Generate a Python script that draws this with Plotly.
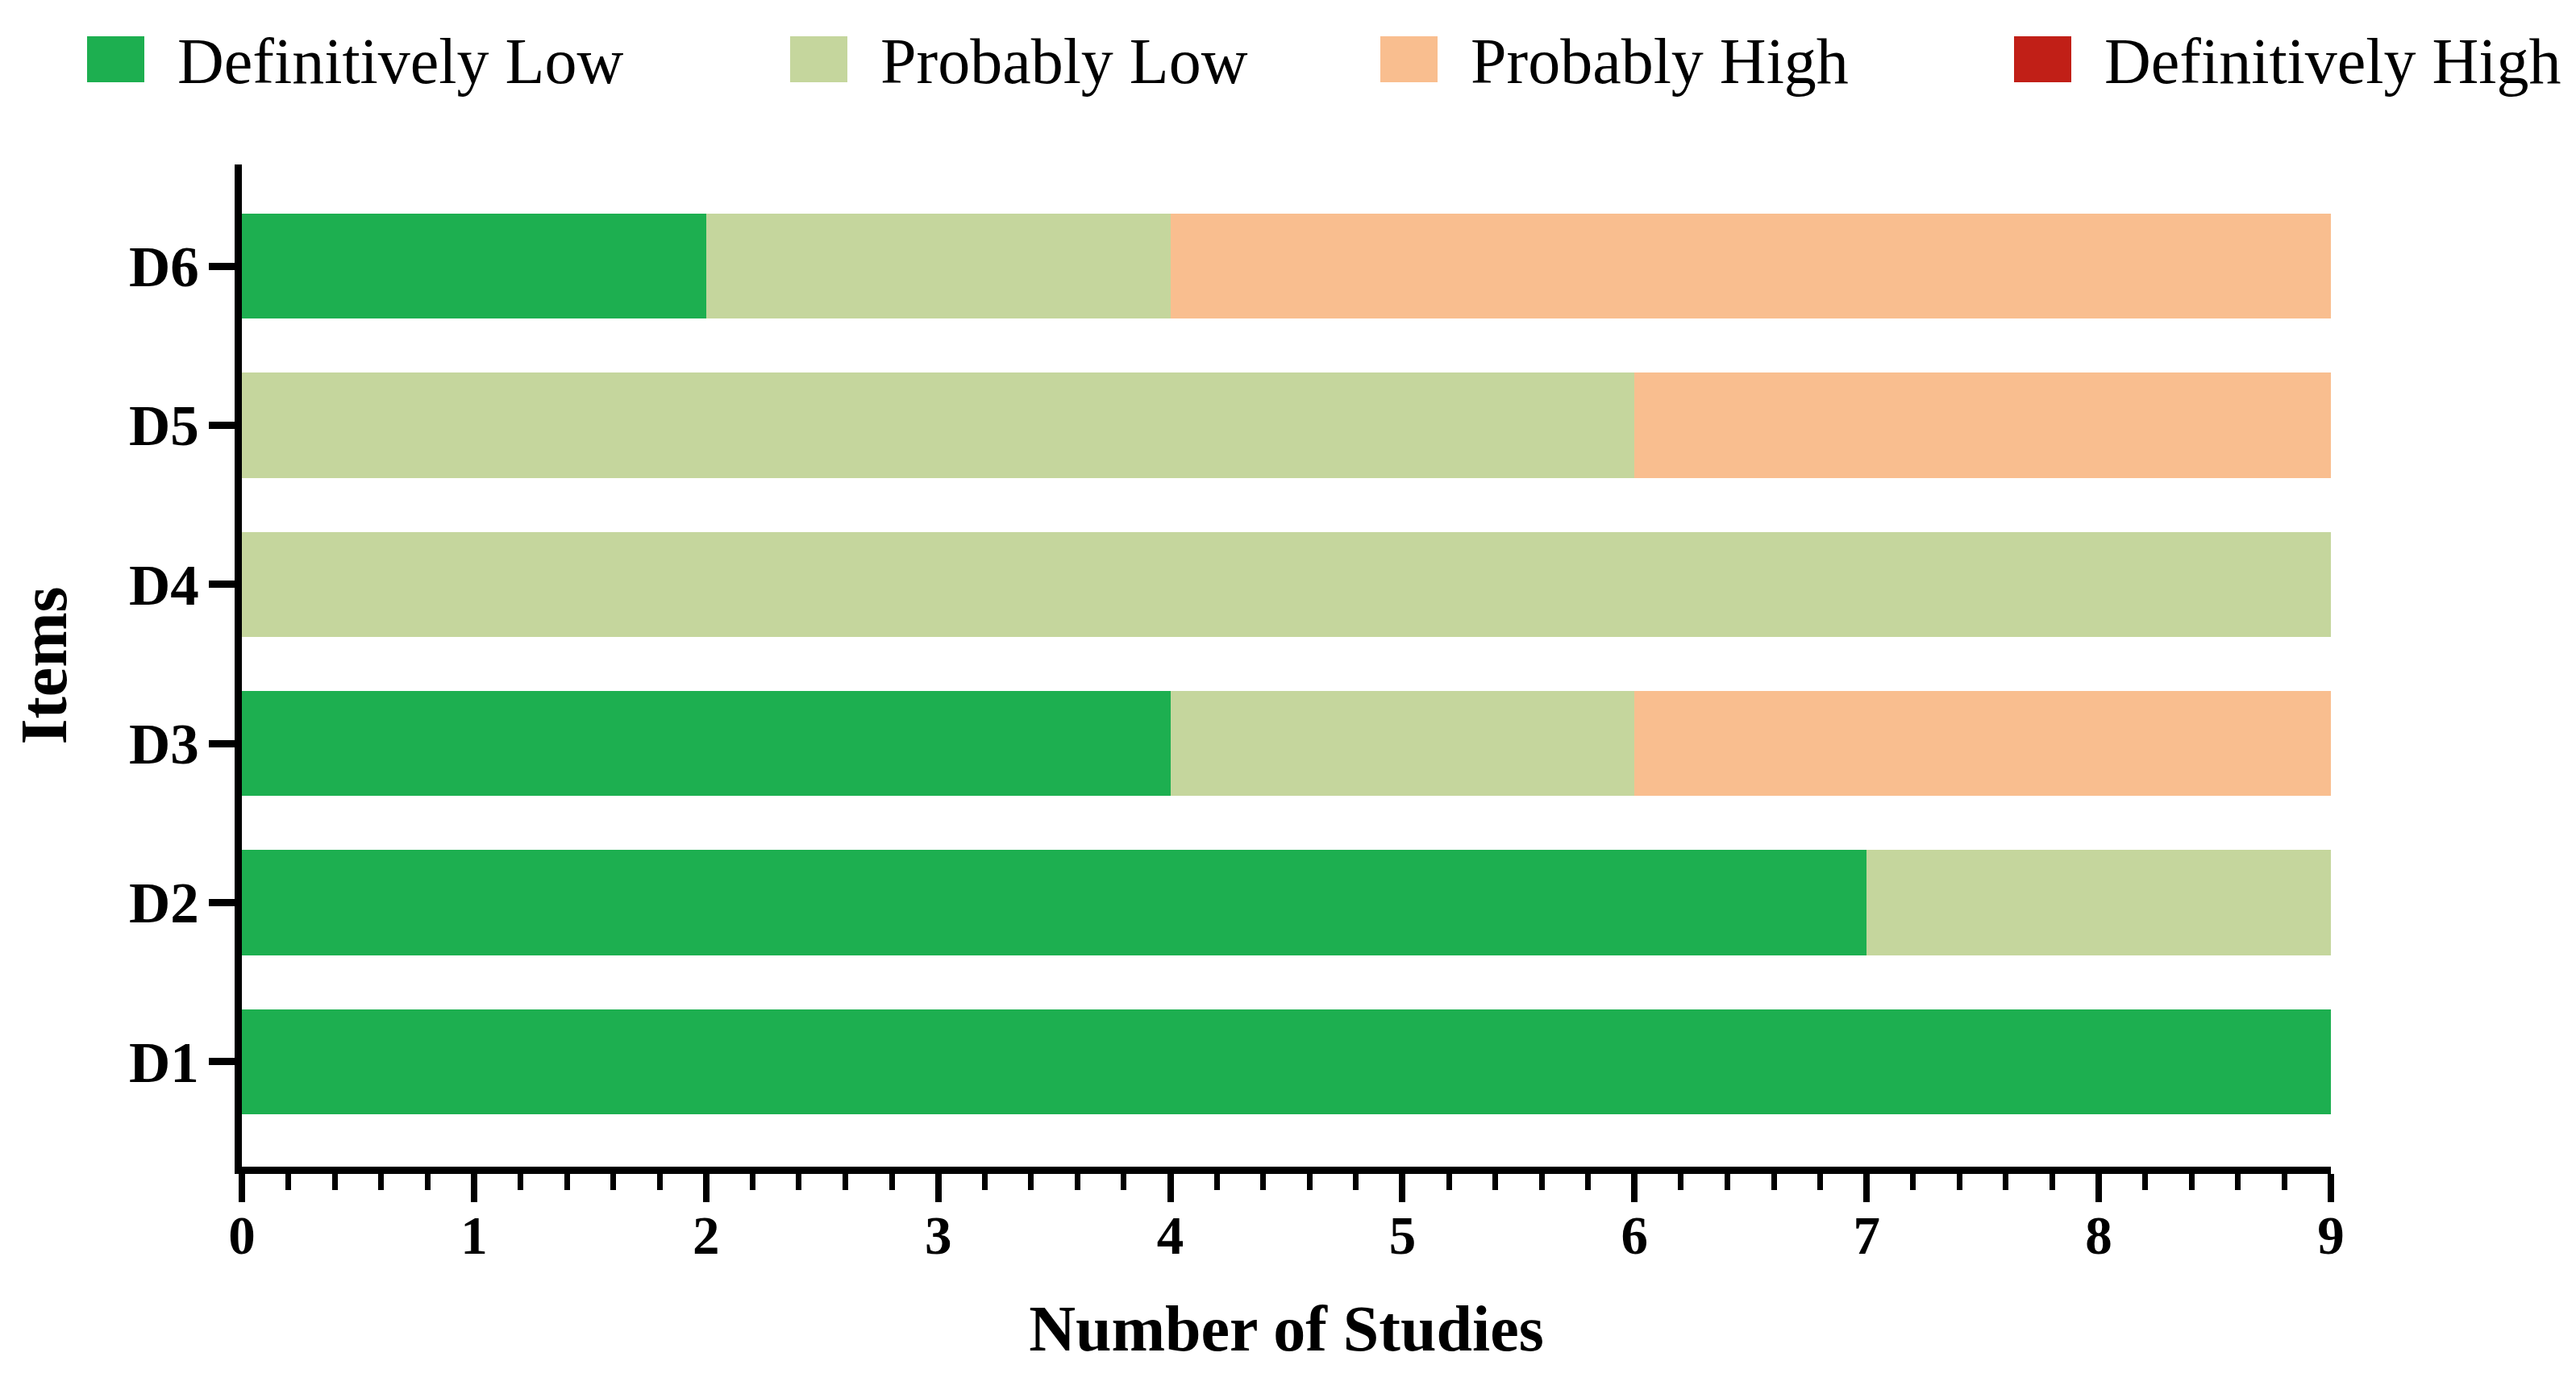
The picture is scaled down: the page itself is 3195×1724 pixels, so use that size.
import plotly.graph_objects as go

# ---- data ----
items = ["D1", "D2", "D3", "D4", "D5", "D6"]
series_names = ["Definitively Low", "Probably Low", "Probably High", "Definitively High"]
definitively_low = [9, 7, 4, 0, 0, 2]
probably_low = [0, 2, 2, 9, 6, 2]
probably_high = [0, 0, 3, 0, 3, 5]
definitively_high = [0, 0, 0, 0, 0, 0]
colors = ["#1daf50", "#c5d69d", "#f9be8f", "#c11f17"]
x_ticks = [0, 1, 2, 3, 4, 5, 6, 7, 8, 9]

W, H = 3195, 1724
ML, MR, MT, MB = 300, 304, 204, 277
FONT = "Liberation Serif"

fig = go.Figure()
for name, vals, col in zip(series_names,
                           [definitively_low, probably_low, probably_high, definitively_high],
                           colors):
    fig.add_trace(go.Bar(y=items, x=vals, name=name, orientation="h",
                         marker=dict(color=col, line=dict(width=0)),
                         showlegend=False))

# custom legend (large square keys like the reference)
plot_w = W - ML - MR
plot_h = H - MT - MB
def px_x(p):
    return (p - ML) / plot_w
def px_y(p):
    return (H - MB - p) / plot_h

key_left = [108, 980, 1712, 2498]
text_left = [218, 1090, 1822, 2608]
for name, col, kx, tx in zip(series_names, colors, key_left, text_left):
    fig.add_shape(type="rect", xref="paper", yref="paper",
                  x0=px_x(kx), x1=px_x(kx + 71), y0=px_y(102), y1=px_y(45),
                  fillcolor=col, line=dict(width=0))
    fig.add_annotation(xref="paper", yref="paper", x=px_x(tx), y=px_y(76),
                       xanchor="left", yanchor="middle", text=name, showarrow=False,
                       font=dict(family=FONT, size=80, color="black"))

fig.update_layout(
    width=W, height=H,
    barmode="stack", bargap=0.34,
    plot_bgcolor="white", paper_bgcolor="white",
    margin=dict(l=ML, r=MR, t=MT, b=MB, pad=0),
    font=dict(family=FONT, color="black"),
)
fig.update_xaxes(
    range=[0, 9], tickvals=x_ticks, ticktext=[f"<b>{v}</b>" for v in x_ticks],
    showgrid=False, zeroline=False,
    showline=True, linecolor="black", linewidth=9,
    ticks="outside", ticklen=35, tickwidth=8, tickcolor="black",
    minor=dict(dtick=0.2, ticks="outside", ticklen=20, tickwidth=7, tickcolor="black", showgrid=False),
    tickfont=dict(family=FONT, size=67, color="black"),
    ticklabelstandoff=-16,
    title=dict(text="<b>Number of Studies</b>", font=dict(family=FONT, size=80, color="black"), standoff=54),
)
fig.update_yaxes(
    range=[-0.66, 5.64], showgrid=False, zeroline=False,
    showline=True, linecolor="black", linewidth=9,
    ticks="outside", ticklen=32, tickwidth=9, tickcolor="black",
    tickvals=items, ticktext=[f"<b>{v}</b>" for v in items],
    tickfont=dict(family=FONT, size=71, color="black"),
    ticklabelstandoff=-2,
    title=dict(text="<b>Items</b>", font=dict(family=FONT, size=82, color="black"), standoff=54),
)

fig.write_html("out.html", post_script="document.body.style.margin='0';",
               config={"displayModeBar": False})
